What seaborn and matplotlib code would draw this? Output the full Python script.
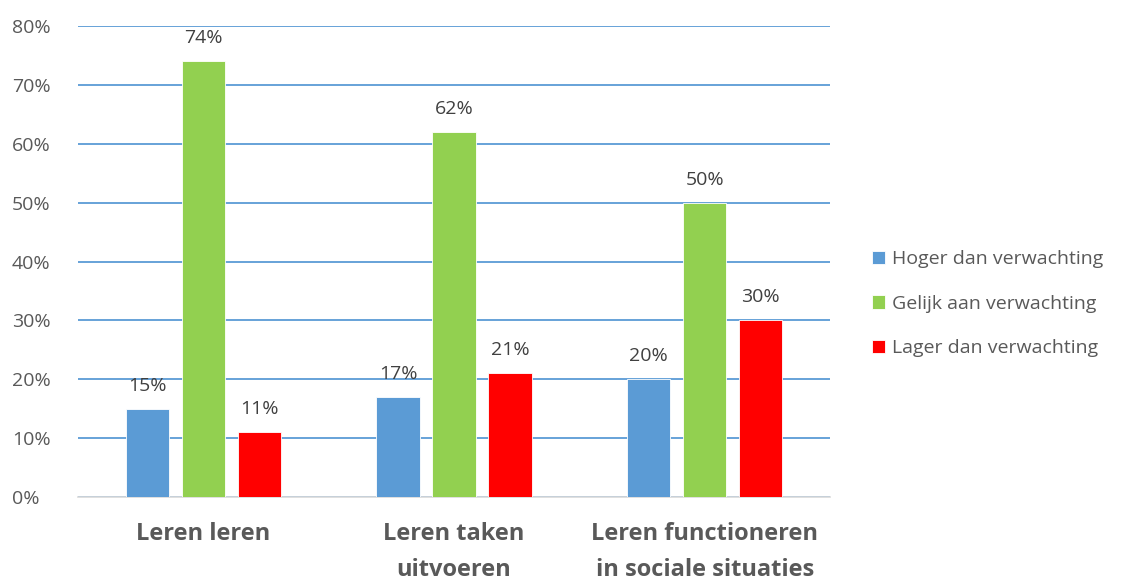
import matplotlib
matplotlib.use("Agg")
import matplotlib.pyplot as plt
import pandas as pd
import seaborn as sns

# Chart data
categories = ["Leren leren", "Leren taken\nuitvoeren", "Leren functioneren\nin sociale situaties"]
series = ["Hoger dan verwachting", "Gelijk aan verwachting", "Lager dan verwachting"]
hoger = [15, 17, 20]
gelijk = [74, 62, 50]
lager = [11, 21, 30]
colors = ["#5B9BD5", "#92D050", "#FF0000"]

df = pd.DataFrame({
    "categorie": categories * 3,
    "reeks": [s for s in series for _ in categories],
    "waarde": hoger + gelijk + lager,
})

sns.set_style("white")
plt.rcParams["font.family"] = ["Open Sans", "DejaVu Sans"]
text_col = "#595959"

fig = plt.figure(figsize=(11.21, 5.83), dpi=100)
ax = fig.add_axes([0.0696, 0.1475, 0.6708, 0.8079])

sns.barplot(data=df, x="categorie", y="waarde", hue="reeks", hue_order=series,
            palette=colors, saturation=1, width=0.67, gap=0.23, ax=ax, zorder=3,
            edgecolor="white", linewidth=0.6)

# data labels
for cont in ax.containers:
    ax.bar_label(cont, labels=[f"{v:.0f}%" for v in cont.datavalues],
                 padding=10, fontsize=14, color="#404040")

ax.set_ylim(0, 80)
ax.set_xlim(-0.5, 2.5)
ax.set_yticks(range(0, 81, 10))
ax.set_yticklabels([f"{t}%" for t in range(0, 81, 10)], fontsize=14, color=text_col)
ax.set_xticklabels(categories, fontsize=17, fontweight="bold", color=text_col,
                   linespacing=1.65)
ax.tick_params(axis="x", length=0, pad=18)
ax.tick_params(axis="y", length=0, pad=47.5)
for lbl in ax.get_yticklabels():
    lbl.set_horizontalalignment("left")
ax.set_xlabel("")
ax.set_ylabel("")

ax.yaxis.grid(True, color="#5B9BD5", linewidth=1.3, zorder=0)
ax.set_axisbelow(True)
for side in ["top", "right", "left"]:
    ax.spines[side].set_visible(False)
ax.spines["bottom"].set_color("#D9D9D9")
ax.spines["bottom"].set_linewidth(1.2)

leg = ax.legend(loc="center left", bbox_to_anchor=(1.045, 0.41), frameon=False,
                fontsize=14, handlelength=0.7, handleheight=0.7,
                handletextpad=0.35, labelspacing=1.36, borderaxespad=0)
for t in leg.get_texts():
    t.set_color(text_col)

fig.savefig("out.png", dpi=100)
